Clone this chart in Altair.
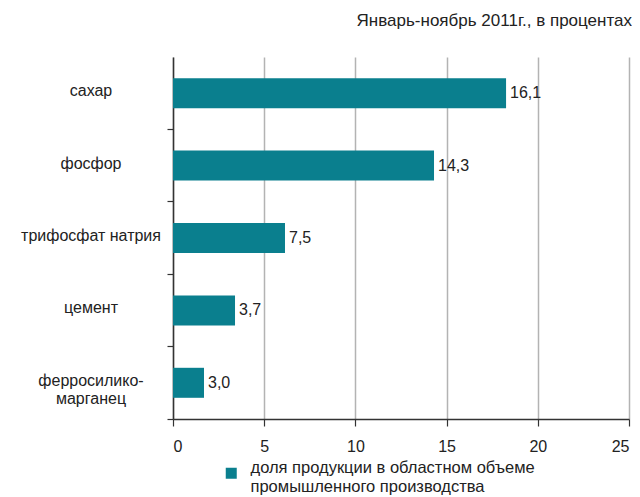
import altair as alt
import pandas as pd

categories = ["сахар", "фосфор", "трифосфат натрия", "цемент", "ферросилико-\nмарганец"]
bar_values = [18.26, 14.31, 6.14, 3.40, 1.70]
label_values = ["16,1", "14,3", "7,5", "3,7", "3,0"]
x_ticks = [0, 5, 10, 15, 20, 25]
series_name = "доля продукции в областном объеме промышленного производства"
legend_lines = ["доля продукции в областном объеме", "промышленного производства"]
title_text = "Январь-ноябрь 2011г., в процентах"

df = pd.DataFrame({
    "cat": categories,
    "value": bar_values,
    "label": label_values,
    "series": [series_name] * len(categories),
})

FONT = "Liberation Sans"
TEAL = "#0a7f8e"
TXT = "#222222"

y_enc = alt.Y(
    "cat:N", sort=categories,
    scale=alt.Scale(paddingInner=0, paddingOuter=0),
    axis=alt.Axis(labels=False, title=None, bandPosition=1, tickSize=6,
                  tickColor="#333333", domainColor="#333333", domainWidth=1.5,
                  tickWidth=1.2, grid=False),
)
x_enc = alt.X(
    "value:Q",
    scale=alt.Scale(domain=[0, 25], nice=False),
    axis=alt.Axis(values=x_ticks, grid=True, gridColor="#b3b3b3", gridWidth=1.5,
                  tickSize=7, tickColor="#333333", tickWidth=1.2,
                  domainColor="#333333", domainWidth=1.5,
                  labelFontSize=16, labelFont=FONT, labelColor=TXT,
                  labelPadding=12, title=None),
)

legend_expr = "['" + legend_lines[0] + "', '" + legend_lines[1] + "']"

bars = alt.Chart(df).mark_bar(height=30).encode(
    x=x_enc,
    y=y_enc,
    color=alt.Color(
        "series:N", scale=alt.Scale(range=[TEAL]),
        legend=alt.Legend(orient="none", legendX=50, legendY=408, title=None,
                          symbolType="square", symbolSize=121, symbolStrokeWidth=0,
                          labelFontSize=16.5, labelFont=FONT, labelColor=TXT,
                          labelOffset=11, labelExpr=legend_expr,
                          labelBaseline="alphabetic", labelLimit=0),
    ),
)

values = alt.Chart(df).mark_text(
    align="left", baseline="middle", dx=4, fontSize=16, font=FONT, color=TXT
).encode(x="value:Q", y=alt.Y("cat:N", sort=categories), text="label:N")

cat_labels = alt.Chart(df).mark_text(
    align="center", baseline="middle", fontSize=16, font=FONT, color=TXT,
    lineBreak="\n", lineHeight=18, dy=-2
).encode(x=alt.value(-82), y=alt.Y("cat:N", sort=categories), text="cat:N")

chart = alt.layer(bars, values, cat_labels).properties(
    width=456, height=362, autosize="none",
    padding={"left": 165, "top": 49, "right": 3, "bottom": 78},
    title=alt.TitleParams(text=title_text, anchor="end", fontSize=17, font=FONT,
                          fontWeight="normal", color=TXT, frame="group",
                          offset=27, dx=3),
).configure_view(stroke=None)

chart.save("out.html", embed_options={"renderer": "svg", "actions": False})
